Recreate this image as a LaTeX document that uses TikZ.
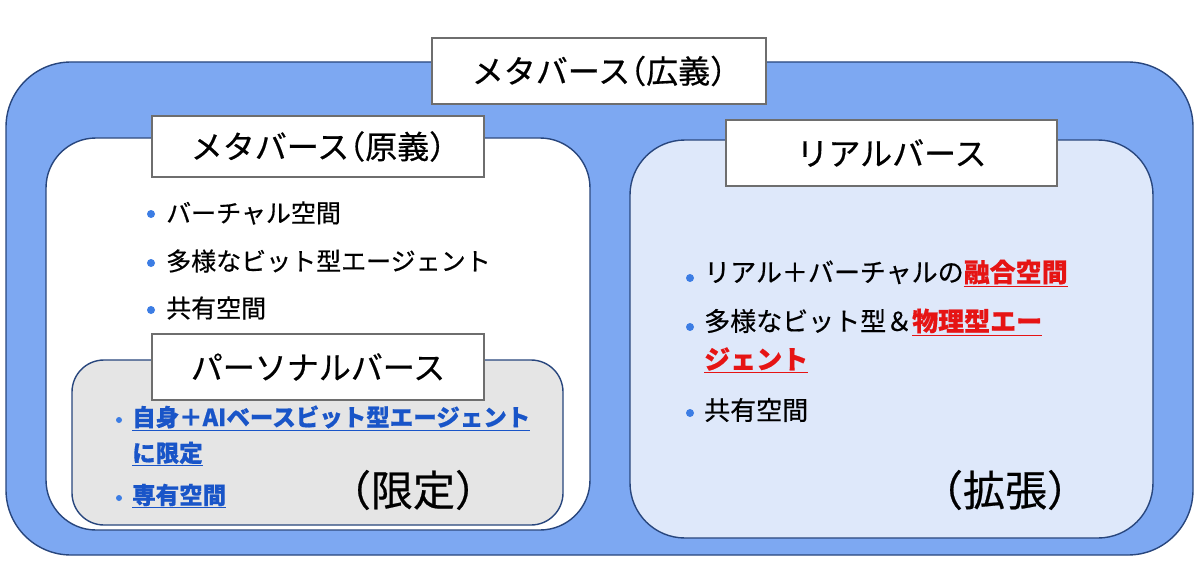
\documentclass[tikz,border=0pt]{standalone}
\usepackage{fontspec}
\setmainfont{Noto Sans CJK JP}[FakeBold=0.5]
\definecolor{outerblue}{RGB}{125,168,242}
\definecolor{navy}{RGB}{40,70,125}
\definecolor{lightblue}{RGB}{222,232,250}
\definecolor{lightgray}{RGB}{229,229,229}
\definecolor{bulletblue}{RGB}{60,125,228}
\definecolor{linkblue}{RGB}{25,85,200}
\definecolor{redtxt}{RGB}{230,20,20}
\definecolor{titleborder}{RGB}{110,110,110}
\begin{document}
\begin{tikzpicture}[x=1pt,y=-1pt,
  panel/.style={draw=navy, line width=1.4pt},
  titlebox/.style={draw=titleborder, fill=white, line width=1.1pt, minimum width=334pt, minimum height=66pt, inner sep=0pt, font=\fontsize{32}{36}\selectfont\addfontfeatures{RawFeature=+halt}},
  dot/.style={circle, fill=bulletblue, inner sep=0pt, minimum size=8pt},
  itemtxt/.style={anchor=west, inner sep=0pt, font=\fontsize{25}{30}\selectfont},
  ritemtxt/.style={anchor=west, inner sep=0pt, font=\fontsize{26}{30}\selectfont},
  pitemtxt/.style={anchor=west, inner sep=0pt, text=linkblue, font=\fontsize{23.5}{28}\selectfont\bfseries},
  bigtxt/.style={inner sep=0pt, font=\fontsize{42}{48}\selectfont}
]
\useasboundingbox (0,0) rectangle (1200,583);
\fill[white] (0,0) rectangle (1200,583);
% outer panel
\draw[panel, fill=outerblue, rounded corners=65pt] (6,62) rectangle (1193,555);
% left panel
\draw[panel, fill=white, rounded corners=50pt] (46,138) rectangle (590,530);
% right panel
\draw[panel, fill=lightblue, rounded corners=55pt] (630,140) rectangle (1153,538);
% personal panel
\draw[panel, fill=lightgray, rounded corners=32pt] (72,360) rectangle (563,525);

% titles
\node[titlebox] (t1) at (599,71) {メタバース（広義）};
\node[titlebox, minimum width=332pt, minimum height=61pt] (t2) at (318,146.5) {メタバース（原義）};
\node[titlebox, minimum width=331pt] (t4) at (891.5,153) {リアルバース};
\node[titlebox, minimum width=332pt] (t3) at (318,367) {パーソナルバース};

% left bullets
\node[dot] (d1) at (151,214) {};
\node[itemtxt] (l1) at (166,213) {バーチャル空間};
\node[dot] (d2) at (151,263) {};
\node[itemtxt] (l2) at (166,261) {多様なビット型エージェント};
\node[dot] (d3) at (151,310) {};
\node[itemtxt] (l3) at (166,308) {共有空間};

% personal bullets
\node[dot, minimum size=6pt] (p1d) at (119,420) {};
\node[pitemtxt] (p1) at (132,418) {\underline{自身＋AIベースビット型エージェント}};
\node[pitemtxt] (p2) at (132,454) {\underline{に限定}};
\node[dot, minimum size=6pt] (p3d) at (119,498) {};
\node[pitemtxt] (p3) at (132,496) {\underline{専有空間}};
\node[bigtxt] (lim) at (413,490) {（限定）};

% right bullets
\node[dot] (r1d) at (690,278) {};
\node[ritemtxt] (r1) at (704,273) {リアル＋バーチャルの{\color{redtxt}\bfseries\underline{融合空間}}};
\node[dot] (r2d) at (690,327) {};
\node[ritemtxt] (r2) at (704,322) {多様なビット型＆{\color{redtxt}\bfseries\underline{物理型エー}}};
\node[ritemtxt, text=redtxt] (r3) at (704,360) {\bfseries\underline{ジェント}};
\node[dot] (r4d) at (690,413) {};
\node[ritemtxt] (r4) at (704,410) {共有空間};
\node[bigtxt] (ext) at (1005,490) {（拡張）};
\end{tikzpicture}
\end{document}
